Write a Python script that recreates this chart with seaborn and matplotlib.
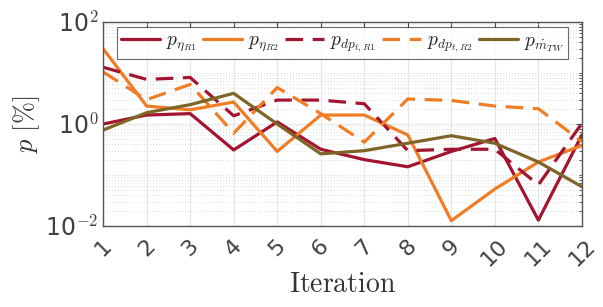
import numpy as np
import pandas as pd
import matplotlib
matplotlib.use("Agg")
import matplotlib.pyplot as plt
import matplotlib.ticker as mticker
import seaborn as sns

#### data
iterations = list(range(1, 13))
p_eta_r1 = [1.0, 1.5, 1.6, 0.31, 1.1, 0.32, 0.2, 0.145, 0.29, 0.52, 0.013, 0.61]
p_eta_r2 = [30.0, 2.25, 1.9, 2.7, 0.29, 1.5, 1.5, 0.61, 0.0127, 0.053, 0.18, 0.38]
p_dp_r1 = [13.0, 7.5, 8.2, 1.45, 2.95, 2.95, 2.5, 0.3, 0.32, 0.32, 0.064, 1.03]
p_dp_r2 = [10.5, 3.0, 6.0, 0.66, 5.2, 1.6, 0.44, 3.1, 2.9, 2.25, 2.0, 0.45]
p_mtw = [0.76, 1.67, 2.4, 4.0, 1.0, 0.26, 0.3, 0.42, 0.59, 0.42, 0.18, 0.059]

labels = [r'$p_{\eta_{R1}}$', r'$p_{\eta_{R2}}$', r'$p_{dp_{t,R1}}$',
          r'$p_{dp_{t,R2}}$', r'$p_{\dot{m}_{TW}}$']
series = [p_eta_r1, p_eta_r2, p_dp_r1, p_dp_r2, p_mtw]
colors = ['#A2142F', '#F07D25', '#A2142F', '#F07D25', '#7E6427']
dashed = [False, False, True, True, False]

df = pd.concat([pd.DataFrame({'Iteration': iterations, 'p': vals, 'name': lab})
                for lab, vals in zip(labels, series)], ignore_index=True)

sns.set_style('white')
plt.rcParams['mathtext.fontset'] = 'cm'
plt.rcParams['font.family'] = ['DejaVu Sans']

fig = plt.figure(figsize=(6.03, 3.07), dpi=100)
ax = fig.add_axes([0.171, 0.264, 0.794, 0.664])

sns.lineplot(data=df, x='Iteration', y='p', hue='name', style='name',
             palette=dict(zip(labels, colors)),
             dashes={lab: ((5.5, 3) if d else '') for lab, d in zip(labels, dashed)},
             linewidth=2.3, ax=ax)

ax.set_yscale('log')
ax.set_ylim(1e-2, 1e2)
ax.set_xlim(1, 12)
ax.set_yticks([1e-2, 1e0, 1e2])
ax.yaxis.set_major_formatter(mticker.FuncFormatter(
    lambda v, pos: {1e-2: '10$^{\\mathsf{-2}}$', 1e0: '10$^{\\mathsf{0}}$', 1e2: '10$^{\\mathsf{2}}$'}.get(v, '')))
ax.yaxis.set_minor_locator(mticker.LogLocator(base=10, subs=np.arange(1, 10), numticks=20))
ax.yaxis.set_minor_formatter(mticker.NullFormatter())
ax.set_xticks(iterations)
ax.set_xticklabels([str(i) for i in iterations], rotation=45, ha='center')

ax.grid(True, which='major', axis='x', color='#e6e6e6', lw=0.8)
ax.grid(True, which='minor', axis='y', color='#cfcfcf', lw=0.6, ls=(0, (1, 2.5)))
ax.grid(True, which='major', axis='y', color='#e6e6e6', lw=0.8)

ax.tick_params(axis='both', which='both', direction='in', top=True, right=True,
               colors='#404040')
ax.tick_params(axis='y', which='major', labelsize=17, length=4)
ax.tick_params(axis='y', which='minor', length=2)
ax.tick_params(axis='x', which='major', labelsize=16, length=4, pad=7)
for s in ax.spines.values():
    s.set_color('#555555')
    s.set_linewidth(1.0)

ax.set_xlabel(r'$\mathrm{Iteration}$', fontsize=20, color='#333333', labelpad=0)
ax.set_ylabel(r'$p\ [\%]$', fontsize=19, color='#333333', labelpad=2)

leg = ax.legend(ncol=5, loc='upper center', bbox_to_anchor=(0.5, 0.985),
                fontsize=14, frameon=True, fancybox=False, edgecolor='#444444',
                handlelength=2.0, handletextpad=0.3, columnspacing=0.35,
                borderpad=0.2, borderaxespad=0.1)
leg.get_frame().set_linewidth(0.8)

fig.savefig('out.png', dpi=100)
